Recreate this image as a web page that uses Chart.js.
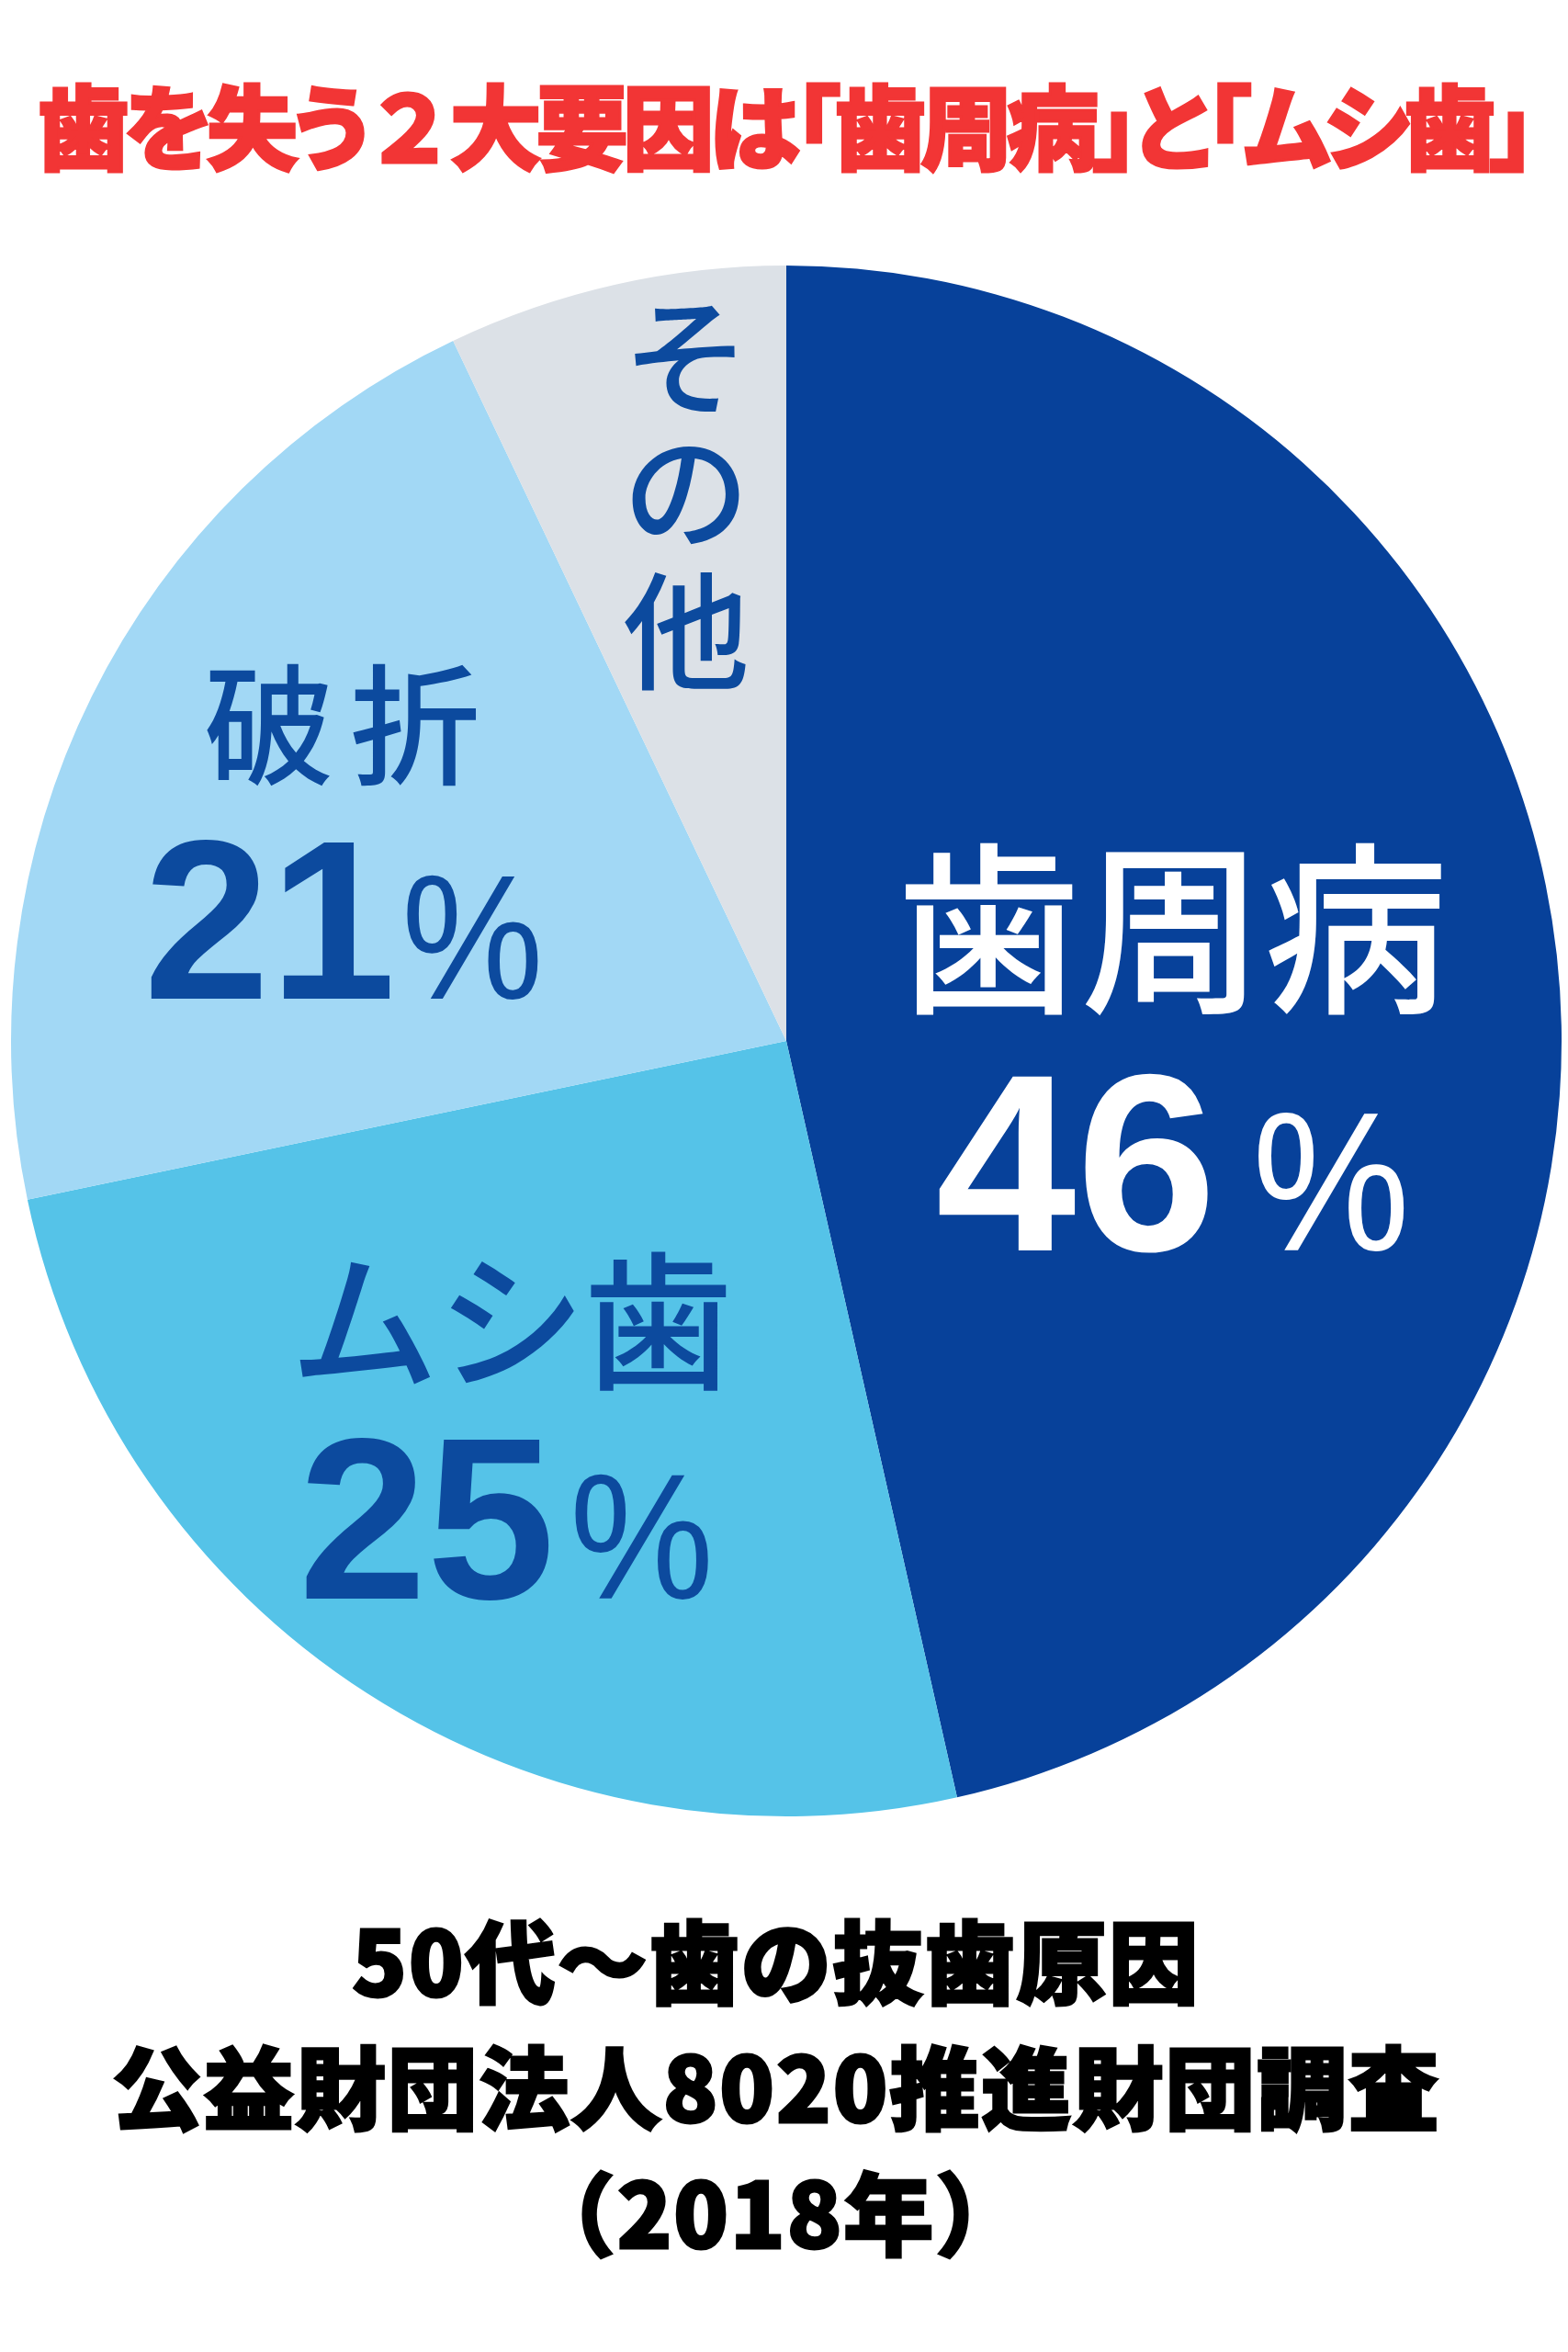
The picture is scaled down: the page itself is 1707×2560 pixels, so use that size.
<!DOCTYPE html>
<html lang="ja">
<head>
<meta charset="utf-8">
<title>歯を失う２大要因</title>
<script src="https://cdn.jsdelivr.net/npm/chart.js@4.4.1/dist/chart.umd.min.js"></script>
<style>
  html, body { margin: 0; padding: 0; background: #fff; }
  #wrap { position: relative; width: 1707px; height: 2560px; overflow: hidden; }
  #chart { position: absolute; left: 0; top: 0; }
  #title {
    position: absolute; left: 0; top: 84px; width: 1707px;
    text-align: center; color: #f23535; white-space: nowrap;
    font: 900 100px "Noto Sans CJK JP", sans-serif; line-height: 1;
    font-feature-settings: "palt"; letter-spacing: -6px;
    -webkit-text-stroke: 3px #f23535;
  }
  #title .fw { font-feature-settings: normal; }
  #note {
    position: absolute; left: 0; top: 2062px; width: 1690px;
    text-align: center; color: #000; white-space: nowrap;
    font: 900 98px "Noto Sans CJK JP", sans-serif; line-height: 137px;
    letter-spacing: 2px;
    -webkit-text-stroke: 3px #000;
  }
</style>
</head>
<body>
<div id="wrap">
  <canvas id="chart" width="1707" height="2560"></canvas>
  <div id="title">歯を失う<span class="fw">２</span>大要因は「歯周病」と「ムシ歯」</div>
  <div id="note">50代〜歯の抜歯原因<br>公益財団法人8020推進財団調査<br>（2018年）</div>
</div>
<script>
// data (50代, 抜歯原因)
var labels = ['歯周病', 'ムシ歯', '破折', 'その他'];
var values = [46, 25, 21, 7];
var colors = ['#07419a', '#55c3e8', '#a2d8f5', '#dce1e7'];

// where each label sits, in units of the pie radius from its centre
var labelPlaces = [
    { color: '#ffffff', x: 0.498, y: -0.144, size: 200, step: 200,
      pctX: 0.495, pctY: 0.270, pctSize: 275, pctGap: 52 },
    { color: '#0c4a9e', x: -0.355, y: 0.361, size: 162, step: 160,
      pctX: -0.360, pctY: 0.719, pctSize: 251, pctGap: 28 },
    { color: '#0c4a9e', x: -0.573, y: -0.408, size: 142, step: 159,
      pctX: -0.570, pctY: -0.0545, pctSize: 247, pctGap: 18 },
    { color: '#0c4a9e', x: -0.129, y: -0.879, size: 138, vstep: 0.175, vertical: true }
];

var jpFont = '"Noto Sans CJK JP", sans-serif';
var numFont = '"Liberation Sans", Arial, sans-serif';

function drawChar(ctx, ch, cx, cy) {
    var m = ctx.measureText(ch);
    var base = cy + (m.actualBoundingBoxAscent - m.actualBoundingBoxDescent) / 2;
    ctx.fillText(ch, cx, base);
}

function drawName(ctx, text, cx, cy, step) {
    var chars = Array.from(text);
    var n = chars.length;
    var m = ctx.measureText(text);
    var base = cy + (m.actualBoundingBoxAscent - m.actualBoundingBoxDescent) / 2;
    chars.forEach(function (ch, k) {
        ctx.fillText(ch, cx + (k - (n - 1) / 2) * step, base);
    });
}

function drawPercent(ctx, num, cx, base, size, gap) {
    var pctSize = size * 0.78;
    var sx = 0.9;
    ctx.textAlign = 'left';
    ctx.font = 'bold ' + size + 'px ' + numFont;
    var dm = ctx.measureText(num);
    var dInk = dm.actualBoundingBoxLeft + dm.actualBoundingBoxRight;
    ctx.font = pctSize + 'px ' + numFont;
    var pm = ctx.measureText('%');
    var pInk = (pm.actualBoundingBoxLeft + pm.actualBoundingBoxRight) * sx;
    var left = cx - (dInk + gap + pInk) / 2;

    ctx.font = 'bold ' + size + 'px ' + numFont;
    ctx.fillText(num, left + dm.actualBoundingBoxLeft, base);

    ctx.font = pctSize + 'px ' + numFont;
    ctx.save();
    ctx.translate(left + dInk + gap + pm.actualBoundingBoxLeft * sx, base);
    ctx.scale(sx, 1);
    ctx.fillText('%', 0, 0);
    ctx.restore();
}

var sliceLabels = {
    id: 'sliceLabels',
    afterDatasetsDraw: function (chart) {
        var ctx = chart.ctx;
        var meta = chart.getDatasetMeta(0);
        var total = values.reduce(function (a, b) { return a + b; }, 0);
        ctx.save();
        ctx.textBaseline = 'alphabetic';
        meta.data.forEach(function (arc, i) {
            var p = labelPlaces[i];
            var r = arc.outerRadius;
            ctx.fillStyle = p.color;
            ctx.textAlign = 'center';
            ctx.font = '500 ' + p.size + 'px ' + jpFont;
            if (p.vertical) {
                Array.from(labels[i]).forEach(function (ch, k) {
                    drawChar(ctx, ch, arc.x + p.x * r, arc.y + (p.y + k * p.vstep) * r);
                });
                return;
            }
            drawName(ctx, labels[i], arc.x + p.x * r, arc.y + p.y * r, p.step);
            var pct = String(Math.round(values[i] / total * 100));
            drawPercent(ctx, pct, arc.x + p.pctX * r, arc.y + p.pctY * r, p.pctSize, p.pctGap);
        });
        ctx.restore();
    }
};

new Chart(document.getElementById('chart'), {
    type: 'pie',
    data: {
        labels: labels,
        datasets: [{
            data: values,
            backgroundColor: colors,
            borderWidth: 0
        }]
    },
    options: {
        responsive: false,
        animation: false,
        devicePixelRatio: 1,
        layout: { padding: { left: 12, right: 7, top: 289, bottom: 583 } },
        plugins: {
            legend: { display: false },
            tooltip: { enabled: false }
        }
    },
    plugins: [sliceLabels]
});
</script>
</body>
</html>
